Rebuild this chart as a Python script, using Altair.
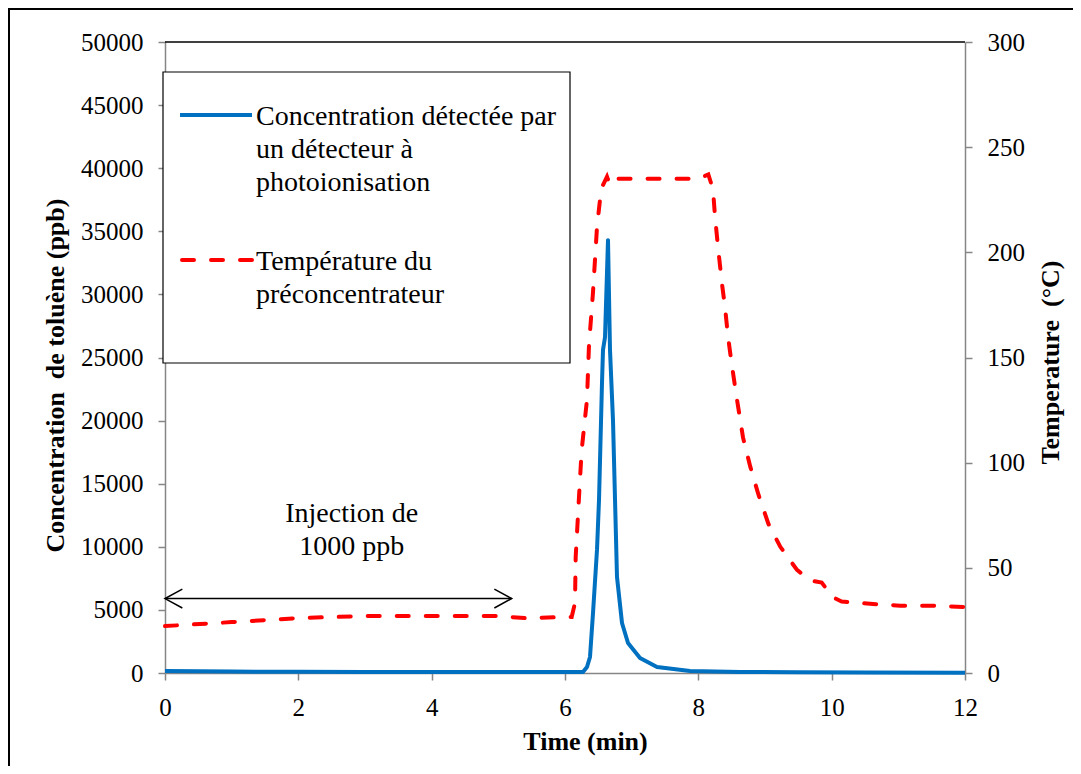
import altair as alt
import pandas as pd

# ---------------- data ----------------
blue_time = [0, 1, 2, 3, 4, 5, 6, 6.2, 6.27, 6.33, 6.375, 6.42, 6.48, 6.51, 6.555, 6.57,
             6.6, 6.645, 6.675, 6.72, 6.78, 6.855, 6.945, 7.125, 7.38, 7.875, 8.625,
             9.5, 10.5, 12]
blue_ppb = [150, 110, 90, 80, 80, 70, 70, 70, 80, 475, 1270, 4750, 9750, 13700, 23000, 25600,
            26600, 34300, 25600, 20000, 7600, 3960, 2380, 1190, 475, 160, 80,
            60, 40, 20]

red_time = [0, 1, 2, 3, 4, 5, 5.4, 6.0, 6.1, 6.15, 6.16, 6.21, 6.25, 6.27, 6.33, 6.36,
            6.42, 6.48, 6.525, 6.555, 6.6, 6.63, 6.675, 6.78, 7.0, 7.3, 7.5, 7.8, 8.0, 8.15,
            8.22, 8.25, 8.3, 8.355, 8.4, 8.445, 8.5, 8.58, 8.67, 8.78, 8.9, 9.05, 9.23,
            9.48, 9.68, 9.85, 10.02, 10.15, 10.53, 11.03, 11.5, 12]
red_temp = [22.3, 24.2, 26.1, 27.1, 27.1, 27.1, 26.1, 26.6, 26.6, 33.3, 55, 83.7, 106, 112,
            130, 156, 181, 212, 225, 231, 234, 236, 232, 235, 235, 235, 235, 235, 235, 237,
            230, 217, 201, 185, 174, 160, 147, 130, 112, 98, 85, 71, 60,
            49, 44, 43, 36, 34, 33, 32, 32, 31.4]

x_ticks = [0, 2, 4, 6, 8, 10, 12]
left_ticks = [0, 5000, 10000, 15000, 20000, 25000, 30000, 35000, 40000, 45000, 50000]
right_ticks = [0, 50, 100, 150, 200, 250, 300]

arrow_start, arrow_end, arrow_level = 0.0, 5.2, 5900
head_dt, head_dv = 0.26, 750
annot_time = 2.8
annot_levels = [12600, 10000]
annot_lines = ["Injection de", "1000 ppb"]

legend_blue = ["Concentration détectée par", "un détecteur à", "photoionisation"]
legend_red = ["Température du", "préconcentrateur"]

FONT = "Liberation Serif"
BLUE = "#0070C0"
RED = "#FF0000"
GREY = "#868686"
TXT = 28

# ---------------- tables ----------------
df_blue = pd.DataFrame({"t": blue_time, "v": blue_ppb})
df_red = pd.DataFrame({"t": red_time, "v": red_temp})
df_shaft = pd.DataFrame({"t": [arrow_start, arrow_end], "v": [arrow_level, arrow_level]})
df_heads = pd.DataFrame({
    "t": [arrow_start + head_dt, arrow_start, arrow_start + head_dt,
          arrow_end - head_dt, arrow_end, arrow_end - head_dt],
    "v": [arrow_level + head_dv, arrow_level, arrow_level - head_dv] * 2,
    "g": ["a", "a", "a", "b", "b", "b"],
    "o": [0, 1, 2, 0, 1, 2],
})
df_annot = pd.DataFrame({"t": [annot_time] * 2, "v": annot_levels, "txt": annot_lines})

x_axis = alt.Axis(values=x_ticks, title="Time (min)", titleFont=FONT, titleFontSize=26,
                  titleFontWeight="bold", titleColor="black", titleX=420, titleY=68,
                  titleAlign="center", titleBaseline="middle",
                  labelFont=FONT, labelFontSize=25, labelColor="black", labelPadding=15,
                  tickSize=7, tickColor=GREY, domainColor=GREY, domainWidth=1.5,
                  tickWidth=1.5, grid=False, labelFlush=False)
x_enc = alt.X("t:Q", scale=alt.Scale(domain=[0, 12], nice=False, zero=False), axis=x_axis)

left_axis = alt.Axis(values=left_ticks, format="d", title="Concentration\u00a0 de toluène (ppb)",
                     titleFont=FONT, titleFontSize=26, titleFontWeight="bold", titleColor="black",
                     titleAngle=270, titleX=-110, titleY=333, titleAlign="center",
                     titleBaseline="middle",
                     labelFont=FONT, labelFontSize=25, labelColor="black", labelPadding=15,
                     tickSize=7, tickColor=GREY, domainColor=GREY, domainWidth=1.5,
                     tickWidth=1.5, grid=False, labelFlush=False)
y_left = alt.Y("v:Q", scale=alt.Scale(domain=[0, 50000], nice=False), axis=left_axis)

right_axis = alt.Axis(values=right_ticks, orient="right", title="Temperature\u00a0 (°C)",
                      titleFont=FONT, titleFontSize=26, titleFontWeight="bold", titleColor="black",
                      titleAngle=270, titleX=85, titleY=320, titleAlign="center",
                      titleBaseline="middle",
                      labelFont=FONT, labelFontSize=25, labelColor="black", labelPadding=15,
                      tickSize=7, tickColor=GREY, domainColor=GREY, domainWidth=1.5,
                      tickWidth=1.5, grid=False, labelFlush=False)
y_right = alt.Y("v:Q", scale=alt.Scale(domain=[0, 300], nice=False), axis=right_axis)

blue = alt.Chart(df_blue).mark_line(color=BLUE, strokeWidth=4, strokeJoin="round").encode(
    x=x_enc, y=y_left)
shaft = alt.Chart(df_shaft).mark_line(color="black", strokeWidth=1.5).encode(x=x_enc, y=y_left)
heads = alt.Chart(df_heads).mark_line(color="black", strokeWidth=1.5).encode(
    x=x_enc, y=y_left, detail="g:N", order="o:Q")
annot = alt.Chart(df_annot).mark_text(font=FONT, fontSize=TXT, color="black",
                                      baseline="middle", align="center").encode(
    x=x_enc, y=y_left, text="txt:N")

left_layer = alt.layer(blue, shaft, heads, annot)

red = alt.Chart(df_red).mark_line(color=RED, strokeWidth=4, strokeDash=[12, 17],
                                  strokeCap="round").encode(x=x_enc, y=y_right)

one = alt.Data(values=[{"k": 1}])

# decorations: top border of plot, outer frame, legend box
top_border = alt.Chart(one).mark_rule(color="black", strokeWidth=1.5).encode(
    x=alt.value(0), x2=alt.value(800), y=alt.value(0))
frame = alt.Chart(one).mark_rect(fillOpacity=0, stroke="black", strokeWidth=2).encode(
    x=alt.value(-156), x2=alt.value(913), y=alt.value(-33), y2=alt.value(729))
legend_box = alt.Chart(one).mark_rect(fill="white", stroke="black", strokeWidth=1.2).encode(
    x=alt.value(-2), x2=alt.value(405), y=alt.value(30), y2=alt.value(321))
leg_blue_line = alt.Chart(one).mark_rule(color=BLUE, strokeWidth=4).encode(
    x=alt.value(15), x2=alt.value(87), y=alt.value(73))
leg_red_line = alt.Chart(one).mark_rule(color=RED, strokeWidth=4, strokeDash=[12, 17],
                                        strokeCap="round").encode(
    x=alt.value(17), x2=alt.value(87), y=alt.value(218))

legend_layers = []
for i, line in enumerate(legend_blue):
    legend_layers.append(alt.Chart(one).mark_text(
        text=line, font=FONT, fontSize=TXT, color="black", align="left",
        baseline="alphabetic").encode(x=alt.value(91), y=alt.value(83 + 33 * i)))
for i, line in enumerate(legend_red):
    legend_layers.append(alt.Chart(one).mark_text(
        text=line, font=FONT, fontSize=TXT, color="black", align="left",
        baseline="alphabetic").encode(x=alt.value(91), y=alt.value(228 + 33 * i)))

chart = alt.layer(
    left_layer, red, top_border, frame, legend_box, leg_blue_line, leg_red_line,
    *legend_layers
).resolve_scale(y="independent").properties(
    width=800, height=631,
    autosize=alt.AutoSizeParams(type="none"),
    padding={"left": 157, "top": 34, "right": 108, "bottom": 93},
    background="white",
).configure(font=FONT).configure_view(stroke=None)

chart.save("out.html", embed_options={"renderer": "svg", "actions": False})
